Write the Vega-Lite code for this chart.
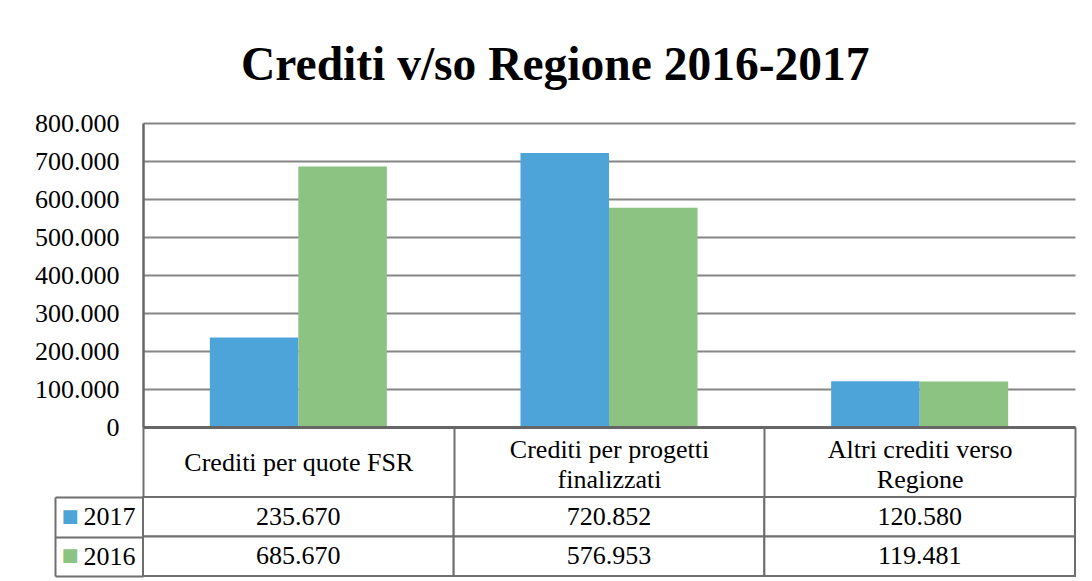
{
  "$schema": "https://vega.github.io/schema/vega-lite/v6.json",
  "padding": {"left": 34, "top": 41, "right": 17, "bottom": 4},
  "background": "white",
  "title": {
    "text": "Crediti v/so Regione 2016-2017",
    "font": "Liberation Serif",
    "fontSize": 47.5,
    "fontWeight": "bold",
    "color": "black",
    "anchor": "middle",
    "offset": 21
  },
  "config": {
    "view": {"stroke": null},
    "locale": {"number": {"decimal": ",", "thousands": ".", "grouping": [3], "currency": ["", " €"]}}
  },
  "datasets": {
    "crediti": [
      {"categoria": "Crediti per quote FSR", "anno": "2017", "valore": 235670},
      {"categoria": "Crediti per progetti finalizzati", "anno": "2017", "valore": 720852},
      {"categoria": "Altri crediti verso Regione", "anno": "2017", "valore": 120580},
      {"categoria": "Crediti per quote FSR", "anno": "2016", "valore": 685670},
      {"categoria": "Crediti per progetti finalizzati", "anno": "2016", "valore": 576953},
      {"categoria": "Altri crediti verso Regione", "anno": "2016", "valore": 119481}
    ]
  },
  "bounds": "flush",
  "spacing": 70,
  "vconcat": [
    {
      "width": 932,
      "height": 304,
      "data": {"name": "crediti"},
      "mark": {"type": "bar"},
      "encoding": {
        "x": {
          "field": "categoria",
          "type": "nominal",
          "sort": ["Crediti per quote FSR", "Crediti per progetti finalizzati", "Altri crediti verso Regione"],
          "scale": {"paddingInner": 0, "paddingOuter": 0},
          "axis": {
            "title": null,
            "zindex": 1,
            "domain": true,
            "domainColor": "#666666",
            "domainWidth": 3,
            "ticks": true,
            "tickBand": "extent",
            "tickSize": 70,
            "tickColor": "#6e6e6e",
            "tickWidth": 2,
            "labelAngle": 0,
            "labelFont": "Liberation Serif",
            "labelFontSize": 26,
            "labelColor": "black",
            "labelBaseline": "middle",
            "labelPadding": {"condition": {"test": "datum.value == 'Crediti per quote FSR'", "value": -35}, "value": -48},
            "labelLineHeight": 30,
            "labelLimit": 0,
            "labelOverlap": false,
            "labelExpr": "datum.value == 'Crediti per progetti finalizzati' ? ['Crediti per progetti', 'finalizzati'] : datum.value == 'Altri crediti verso Regione' ? ['Altri crediti verso', 'Regione'] : datum.value"
          }
        },
        "xOffset": {
          "field": "anno",
          "type": "nominal",
          "sort": ["2017", "2016"],
          "scale": {"paddingInner": 0, "paddingOuter": 0.755}
        },
        "y": {
          "field": "valore",
          "type": "quantitative",
          "scale": {"domain": [0, 800000], "nice": false},
          "axis": {
            "title": null,
            "values": [0, 100000, 200000, 300000, 400000, 500000, 600000, 700000, 800000],
            "format": ",.0f",
            "grid": true,
            "gridColor": "#858585",
            "gridWidth": 2,
            "ticks": false,
            "domain": true,
            "domainColor": "#666666",
            "domainWidth": 2.5,
            "labelPadding": 24,
            "labelFont": "Liberation Serif",
            "labelFontSize": 26,
            "labelColor": "black"
          }
        },
        "color": {
          "field": "anno",
          "type": "nominal",
          "scale": {"domain": ["2017", "2016"], "range": ["#4da4d9", "#8cc282"]},
          "legend": null
        }
      }
    },
    {
      "width": 932,
      "height": 79,
      "data": {"name": "crediti"},
      "encoding": {
        "x": {
          "field": "categoria",
          "type": "nominal",
          "sort": ["Crediti per quote FSR", "Crediti per progetti finalizzati", "Altri crediti verso Regione"],
          "scale": {"paddingInner": 0, "paddingOuter": 0},
          "axis": null
        },
        "y": {
          "field": "anno",
          "type": "nominal",
          "sort": ["2017", "2016"],
          "scale": {"paddingInner": 0, "paddingOuter": 0}
        }
      },
      "layer": [
        {
          "mark": {"type": "rect", "fill": "white", "stroke": "#6e6e6e", "strokeWidth": 2},
          "encoding": {
            "y": {
              "field": "anno",
              "type": "nominal",
              "sort": ["2017", "2016"],
              "axis": {
                "title": null,
                "orient": "left",
                "domain": false,
                "ticks": true,
                "tickBand": "extent",
                "tickSize": 88,
                "tickColor": "#6e6e6e",
                "tickWidth": 2,
                "labelAlign": "right",
                "labelBaseline": "middle",
                "labelPadding": -80,
                "labelFont": "Liberation Serif",
                "labelFontSize": 26,
                "labelColor": "black"
              }
            }
          }
        },
        {
          "mark": {"type": "text", "font": "Liberation Serif", "fontSize": 26, "color": "black"},
          "encoding": {
            "text": {"field": "valore", "type": "quantitative", "format": ",.0f"},
            "y": {
              "field": "anno",
              "type": "nominal",
              "sort": ["2017", "2016"],
              "axis": {
                "title": null,
                "orient": "left",
                "offset": 88,
                "domain": true,
                "domainColor": "#6e6e6e",
                "domainWidth": 2,
                "ticks": false,
                "labelExpr": "'■'",
                "labelAlign": "left",
                "labelBaseline": "middle",
                "labelPadding": -6,
                "labelFont": "DejaVu Sans",
                "labelFontSize": 18,
                "labelColor": {"condition": {"test": "datum.value === '2017'", "value": "#4da4d9"}, "value": "#8cc282"}
              }
            }
          }
        }
      ],
      "resolve": {"axis": {"y": "independent"}}
    }
  ]
}
